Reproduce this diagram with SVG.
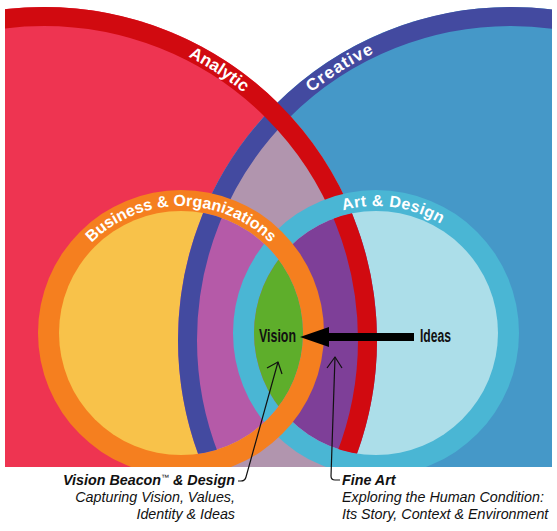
<svg xmlns="http://www.w3.org/2000/svg" xmlns:xlink="http://www.w3.org/1999/xlink" width="557" height="531" viewBox="0 0 557 531">
<style>
.ringlbl{font-family:"Liberation Sans",Arial,Helvetica,sans-serif;font-weight:bold;font-size:16px;fill:#ffffff}
.big{font-size:17px}
.cond{font-family:"Liberation Sans Narrow","Liberation Sans",Arial,sans-serif;font-weight:bold;font-size:18px;fill:#111111}
.cap{font-family:"Liberation Sans",Arial,Helvetica,sans-serif;font-style:italic;font-size:14.3px;fill:#111111}
.capb{font-family:"Liberation Sans",Arial,Helvetica,sans-serif;font-style:italic;font-weight:bold;font-size:14.3px;fill:#111111}
.ptr{fill:none;stroke:#111111;stroke-width:1.2;stroke-linejoin:round}
</style>
<defs>
<clipPath id="frame"><rect x="5" y="0" width="547" height="467"/></clipPath>
<clipPath id="clipR"><circle cx="44" cy="340" r="333"/></clipPath>
<clipPath id="clipOin"><circle cx="181" cy="333" r="122"/></clipPath>
<clipPath id="clipLin"><circle cx="376" cy="333" r="122"/></clipPath>
<path id="arcR" d="M -274 340 A 318 318 0 0 1 362 340"/>
<path id="arcB" d="M 193 340 A 318 318 0 0 1 829 340"/>
<path id="arcO" d="M 54 333 A 127 127 0 0 1 308 333"/>
<path id="arcL" d="M 249 333 A 127 127 0 0 1 503 333"/>
</defs>

<g clip-path="url(#frame)">
  <g id="analytic">
    <circle cx="44" cy="340" r="333" fill="#EE3451"/>
  </g>
  <g id="creative">
    <circle cx="511" cy="340" r="333" fill="#4598C8"/>
    <circle cx="511" cy="340" r="333" fill="#B195AE" clip-path="url(#clipR)"/>
    <circle cx="511" cy="340" r="323.5" fill="none" stroke="#434AA0" stroke-width="19"/>
    <text class="ringlbl big" letter-spacing="1"><textPath xlink:href="#arcB" startOffset="321" text-anchor="middle">Creative</textPath></text>
  </g>
  <g id="analytic-ring">
    <circle cx="44" cy="340" r="323.5" fill="none" stroke="#D10A10" stroke-width="19"/>
    <text class="ringlbl big"><textPath xlink:href="#arcR" startOffset="682" text-anchor="middle">Analytic</textPath></text>
  </g>

  <g id="art-design">
    <circle cx="376" cy="333" r="143" fill="#4AB6D4"/>
    <circle cx="376" cy="333" r="122" fill="#ACDEE9"/>
    <g clip-path="url(#clipLin)">
      <circle cx="44" cy="340" r="333" fill="#7E3F98"/>
      <circle cx="44" cy="340" r="323.5" fill="none" stroke="#D10A10" stroke-width="19"/>
    </g>
    <text class="ringlbl" letter-spacing="0.4"><textPath xlink:href="#arcL" startOffset="217" text-anchor="middle">Art &amp; Design</textPath></text>
  </g>

  <g id="business">
    <circle cx="181" cy="333" r="143" fill="#F57F1F"/>
    <circle cx="181" cy="333" r="122" fill="#F8C24A"/>
    <g clip-path="url(#clipOin)">
      <circle cx="511" cy="340" r="333" fill="#B55AA8"/>
      <circle cx="511" cy="340" r="323.5" fill="none" stroke="#434AA0" stroke-width="19"/>
      <circle cx="376" cy="333" r="132.5" fill="none" stroke="#4AB6D4" stroke-width="21"/>
    </g>
    <text class="ringlbl"><textPath xlink:href="#arcO" startOffset="50%" text-anchor="middle">Business &amp; Organizations</textPath></text>
  </g>

  <g id="vision">
    <circle cx="376" cy="333" r="122" fill="#5EAE2B" clip-path="url(#clipOin)"/>
    <text class="cond" x="259" y="342" textLength="37" lengthAdjust="spacingAndGlyphs">Vision</text>
  </g>
  <g id="ideas">
    <text class="cond" x="420" y="342" textLength="31" lengthAdjust="spacingAndGlyphs">Ideas</text>
  </g>
</g>

<g id="connectors">
  <polygon points="414,333 329,333 329,327 300,337 329,347 329,341 414,341" fill="#000000"/>
  <path class="ptr" d="M 278 362 L 246 477 Q 245 481 241 481 L 238 481"/>
  <polyline class="ptr" points="267,368 278,362 282,374"/>
  <path class="ptr" d="M 335 357 L 331 476 Q 331 480 335 480 L 340 480"/>
  <polyline class="ptr" points="327,368 335,357 342,368"/>
</g>

<g id="label-vision-beacon">
  <text class="capb" x="235" y="485" text-anchor="end">Vision Beacon<tspan font-size="8" font-weight="normal" dy="-5">™</tspan><tspan dy="5"> &amp; Design</tspan></text>
  <text class="cap" x="235" y="502" text-anchor="end">Capturing Vision, Values,</text>
  <text class="cap" x="235" y="519" text-anchor="end">Identity &amp; Ideas</text>
</g>
<g id="label-fine-art">
  <text class="capb" x="342" y="485">Fine Art</text>
  <text class="cap" x="342" y="502">Exploring the Human Condition:</text>
  <text class="cap" x="342" y="519">Its Story, Context &amp; Environment</text>
</g>
</svg>
